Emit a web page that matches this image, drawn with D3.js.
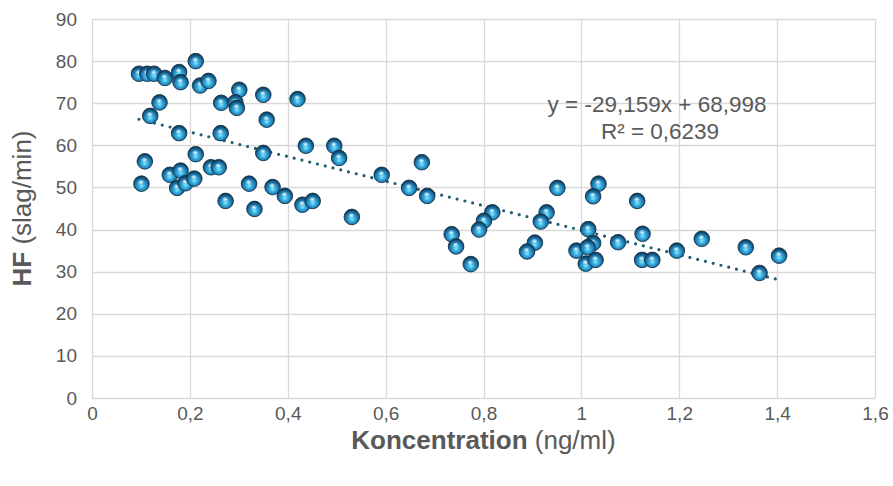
<!DOCTYPE html>
<html>
<head>
<meta charset="utf-8">
<script src="https://cdn.jsdelivr.net/npm/d3@7"></script>
<style>
  html, body { margin: 0; padding: 0; background: #ffffff; }
  svg { display: block; font-family: "Liberation Sans", Arial, sans-serif; }
</style>
</head>
<body>
<svg id="chart" width="893" height="486"></svg>
<script>
// Concentration (ng/ml) and heart rate (slag/min) for each measurement
const concentration = [
  0.096, 0.113, 0.127, 0.149, 0.178, 0.181, 0.212, 0.221, 0.238, 0.138,
  0.301, 0.264, 0.293, 0.296, 0.350, 0.357, 0.119, 0.178, 0.263, 0.350,
  0.212, 0.108, 0.101, 0.159, 0.181, 0.174, 0.191, 0.209, 0.243, 0.259,
  0.273, 0.321, 0.332, 0.420, 0.437, 0.495, 0.505, 0.592, 0.369, 0.674,
  0.648, 0.685, 0.394, 0.430, 0.451, 0.531, 0.735, 0.744, 0.774, 0.818,
  0.801, 0.791, 0.951, 0.929, 0.917, 0.905, 0.889, 0.990, 1.035, 1.024,
  1.114, 1.014, 1.125, 1.246, 1.075, 1.024, 1.013, 1.195, 1.009, 1.029,
  1.124, 1.145, 1.336, 1.404, 1.364
];
const heartRate = [
  77.0, 77.0, 77.0, 76.0, 77.4, 75.0, 80.0, 74.2, 75.3, 70.2,
  73.2, 70.1, 70.2, 68.9, 72.0, 66.1, 67.0, 62.9, 62.9, 58.2,
  57.9, 56.2, 50.9, 53.0, 54.0, 49.9, 51.0, 52.1, 54.8, 54.8,
  46.8, 50.9, 44.9, 71.0, 59.9, 59.9, 57.0, 53.0, 50.1, 56.0,
  49.9, 48.0, 48.0, 45.9, 46.8, 43.0, 38.9, 36.0, 31.8, 44.1,
  42.1, 40.0, 49.9, 44.1, 41.9, 36.9, 34.8, 35.0, 50.9, 47.9,
  46.8, 40.1, 39.0, 37.8, 37.0, 36.8, 35.8, 35.0, 31.9, 32.8,
  32.8, 32.8, 35.8, 33.8, 29.7
];

// Axis ticks
const xTicks = [0, 0.2, 0.4, 0.6, 0.8, 1, 1.2, 1.4, 1.6];
const yTicks = [0, 10, 20, 30, 40, 50, 60, 70, 80, 90];

// Linear trendline
const slope = -29.159;
const intercept = 68.998;
const rSquared = 0.6239;

const fmt = v => String(v).replace(".", ",");

const svg = d3.select("#chart");
const margin = { left: 92, right: 18, top: 19, bottom: 88 };
const W = 893, H = 486;

const x = d3.scaleLinear().domain([0, 1.6]).range([margin.left, W - margin.right]);
const y = d3.scaleLinear().domain([0, 90]).range([H - margin.bottom, margin.top]);

const textColor = "#595959";
const gridColor = "#d9d9d9";

// Marker shading
const defs = svg.append("defs");
const ball = defs.append("radialGradient").attr("id", "ball")
  .attr("cx", "50%").attr("cy", "58%").attr("r", "55%")
  .attr("fx", "50%").attr("fy", "64%");
ball.append("stop").attr("offset", "0%").attr("stop-color", "#8fe8fc");
ball.append("stop").attr("offset", "30%").attr("stop-color", "#40b6e6");
ball.append("stop").attr("offset", "66%").attr("stop-color", "#1f7eb3");
ball.append("stop").attr("offset", "100%").attr("stop-color", "#0f3450");
const shine = defs.append("radialGradient").attr("id", "shine")
  .attr("cx", "50%").attr("cy", "50%").attr("r", "50%");
shine.append("stop").attr("offset", "0%").attr("stop-color", "#ffffff").attr("stop-opacity", 0.95);
shine.append("stop").attr("offset", "100%").attr("stop-color", "#ffffff").attr("stop-opacity", 0);

// Gridlines
const grid = svg.append("g");
grid.selectAll("line.h").data(yTicks).join("line")
  .attr("x1", x(0)).attr("x2", x(1.6))
  .attr("y1", d => Math.round(y(d)) + 0.5).attr("y2", d => Math.round(y(d)) + 0.5)
  .attr("stroke", gridColor).attr("stroke-width", 1.3);
grid.selectAll("line.v").data(xTicks).join("line")
  .attr("y1", y(0)).attr("y2", y(90))
  .attr("x1", d => Math.round(x(d)) + 0.5).attr("x2", d => Math.round(x(d)) + 0.5)
  .attr("stroke", gridColor).attr("stroke-width", 1.3);

// Axes (labels only; lines come from the grid)
const xAxis = svg.append("g").attr("transform", `translate(0,${y(0)})`)
  .call(d3.axisBottom(x).tickValues(xTicks).tickFormat(fmt).tickSize(0).tickPadding(9));
const yAxis = svg.append("g").attr("transform", `translate(${x(0)},0)`)
  .call(d3.axisLeft(y).tickValues(yTicks).tickFormat(fmt).tickSize(0).tickPadding(15));
[xAxis, yAxis].forEach(a => {
  a.select(".domain").remove();
  a.selectAll("text").attr("fill", textColor).style("font-size", "19px")
    .style("font-family", "'Liberation Sans', Arial, sans-serif");
});

// Axis titles
const xt = svg.append("text")
  .attr("x", (x(0) + x(1.6)) / 2).attr("y", 449)
  .attr("text-anchor", "middle").attr("fill", textColor).style("font-size", "26px");
xt.append("tspan").attr("font-weight", "bold").text("Koncentration");
xt.append("tspan").text(" (ng/ml)");

const yt = svg.append("text")
  .attr("transform", `translate(31,${(y(0) + y(90)) / 2}) rotate(-90)`)
  .attr("text-anchor", "middle").attr("fill", textColor).style("font-size", "26px");
yt.append("tspan").attr("font-weight", "bold").text("HF");
yt.append("tspan").text(" (slag/min)");

// Trendline across the data range
const xMin = d3.min(concentration), xMax = d3.max(concentration);
svg.append("line")
  .attr("x1", x(xMin)).attr("y1", y(slope * xMin + intercept))
  .attr("x2", x(xMax)).attr("y2", y(slope * xMax + intercept))
  .attr("stroke", "#1f5d70").attr("stroke-width", 3.2)
  .attr("stroke-linecap", "round").attr("stroke-dasharray", "0 8");

// Markers
const pts = concentration.map((c, i) => ({ c, h: heartRate[i] }));
const m = svg.append("g").selectAll("g").data(pts).join("g")
  .attr("transform", d => `translate(${x(d.c)},${y(d.h)})`);
m.append("circle").attr("r", 7.8).attr("fill", "url(#ball)")
  .attr("stroke", "#12364f").attr("stroke-width", 0.9);
m.append("ellipse").attr("cx", -0.5).attr("cy", -1.5).attr("rx", 3.2).attr("ry", 2.6)
  .attr("fill", "url(#shine)");

// Trendline equation
const eq = svg.append("text").attr("text-anchor", "middle").attr("fill", textColor)
  .style("font-size", "22.5px");
eq.append("tspan").attr("x", 657).attr("y", 112)
  .text(`y = ${fmt(slope)}x + ${fmt(intercept)}`);
eq.append("tspan").attr("x", 660).attr("y", 139)
  .text(`R² = ${fmt(rSquared)}`);
</script>
</body>
</html>
